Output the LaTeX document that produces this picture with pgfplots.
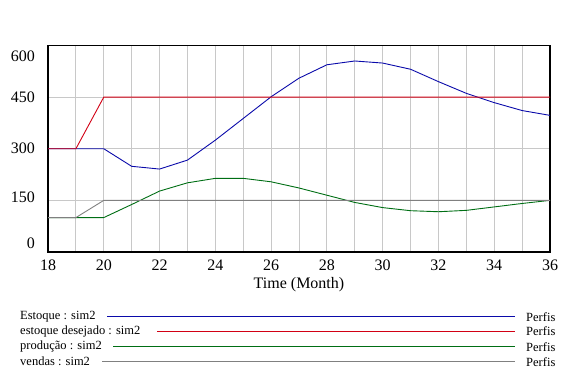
\documentclass[border=0pt]{standalone}
\usepackage{pgfplots}
\pgfplotsset{compat=1.18}
\usepackage{fontspec}
\setmainfont{Liberation Serif}
\definecolor{cblue}{RGB}{10,10,170}
\definecolor{cred}{RGB}{210,0,20}
\definecolor{cgreen}{RGB}{0,110,20}
\definecolor{cgrey}{RGB}{128,128,128}
\definecolor{cgrid}{RGB}{200,200,200}
\begin{document}
\begin{tikzpicture}[x=1pt,y=1pt]
\useasboundingbox (0,0) rectangle (576,384);
\begin{axis}[
  at={(48pt,132pt)}, anchor=south west,
  scale only axis, width=502pt, height=206.5pt,
  xmin=18, xmax=36, ymin=0, ymax=600,
  xtick={18,20,...,36}, minor xtick={19,21,...,35},
  ytick={0,150,...,600}, yticklabels={},
  extra y ticks={26,160,300,451,570},
  extra y tick labels={0,150,300,450,600},
  extra y tick style={grid=none, major tick length=0pt},
  major tick length=0pt, minor tick length=0pt,
  grid=both,
  major grid style={cgrid, line width=0.8pt},
  minor grid style={cgrid, line width=0.8pt},
  axis line style={black, line width=1.8pt},
  /pgf/number format/assume math mode=true,
  tick label style={font=\fontsize{16}{18}\selectfont, inner sep=0pt},
  xticklabel style={anchor=center, yshift=-13.7pt},
  yticklabel style={anchor=east, xshift=-13pt},
  xlabel={Time (Month)},
  xlabel style={font=\fontsize{16}{18}\selectfont, anchor=center, at={(axis description cs:0.5,0)}, yshift=-33pt, inner sep=0pt},
  clip=true,
]
\addplot[cblue, line width=0.9pt] coordinates {
(18,300) (19,300) (20,300) (21,249) (22,241) (23,267) (24,325) (25,388) (26,451)
(27,505) (28,544) (29,555) (30,549) (31,531) (32,495) (33,461) (34,434) (35,411) (36,397)};
\addplot[cred, line width=0.9pt] coordinates {
(18,300) (19,300) (20,450) (21,450) (22,450) (24,450) (26,450) (28,450) (30,450) (32,450) (34,450) (36,450)};
\addplot[cgreen, line width=0.9pt] coordinates {
(18,100) (19,100) (20,100) (21,138) (22,177) (23,201) (24,214) (25,214) (26,204)
(27,186) (28,165) (29,144) (30,129) (31,120) (32,117) (33,121) (34,131) (35,141) (36,150)};
\addplot[cgrey, line width=0.9pt] coordinates {
(18,100) (19,100) (20,150) (22,150) (24,150) (26,150) (28,150) (30,150) (32,150) (34,150) (36,150)};
\end{axis}
\begin{scope}[every node/.style={font=\fontsize{12.5}{14}\selectfont, inner sep=0pt}]
\node[anchor=west] at (20,67.3) {Estoque : sim2};
\draw[cblue, line width=0.9pt] (107,67.3) -- (515,67.3);
\node[anchor=west] at (526,67.3) {Perfis};
\node[anchor=west] at (20,53) {estoque desejado : sim2};
\draw[cred, line width=0.9pt] (157,53) -- (515,53);
\node[anchor=west] at (526,53) {Perfis};
\node[anchor=west] at (20,37.3) {produção : sim2};
\draw[cgreen, line width=0.9pt] (113,37.3) -- (515,37.3);
\node[anchor=west] at (526,37.3) {Perfis};
\node[anchor=west] at (20,22.3) {vendas : sim2};
\draw[cgrey, line width=0.9pt] (102,22.3) -- (515,22.3);
\node[anchor=west] at (526,22.3) {Perfis};
\end{scope}
\end{tikzpicture}
\end{document}
